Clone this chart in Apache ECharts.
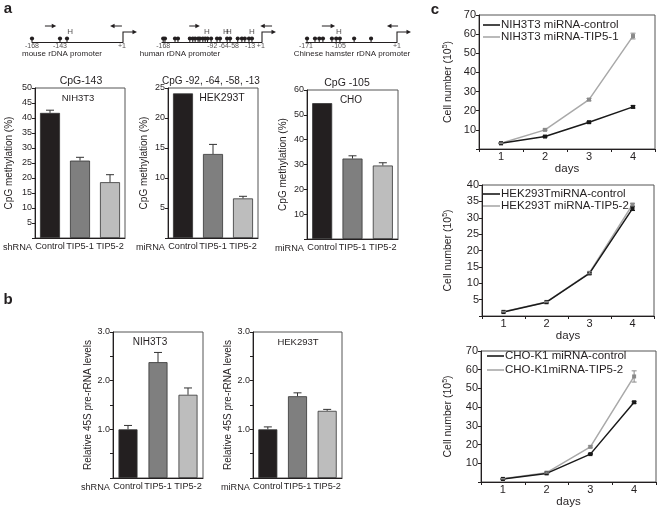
<!DOCTYPE html>
<html>
<head>
<meta charset="utf-8">
<script src="https://cdn.jsdelivr.net/npm/echarts@6/dist/echarts.min.js"></script>
<style>
  html, body { margin: 0; padding: 0; background: #fff; }
  #main { width: 661px; height: 509px; }
</style>
</head>
<body>
<div id="main"></div>
<script>
const FONT = '"Liberation Sans", Arial, sans-serif';
const INK = '#231f20';

// --- promoter schematics (positions as drawn, relative to +1) ---
const mouseCpG = [-168, -116, -103];
const mouseH = [-97];
const mouseSites = [[-168, '-168'], [-116, '-143'], [-1, '+1']];
const mousePrimers = [[-144, -123], [-1, -23]];

const humanCpG = [-166, -163, -146, -141, -121, -116, -112, -107, -104, -99, -95, -91, -85,
                  -75, -70, -58, -53, -40, -33, -28, -21, -16];
const humanH = [-92, -60, -55, -16];
const humanSites = [[-166, '-168'], [-83, '-92'], [-55, '-64-58'], [-19, '-13'], [-1, '+1']];
const humanPrimers = [[-122, -104], [18, -2]];

const choCpG = [-169, -154, -146, -139, -122, -114, -107, -80, -48];
const choH = [-109];
const choSites = [[-171, '-171'], [-109, '-105'], [1, '+1']];
const choPrimers = [[-141, -116], [3, -18]];

// --- a: CpG methylation (%) ---
const treatments = ['Control', 'TIP5-1', 'TIP5-2'];
const methNIH = [41.7, 25.8, 18.6];
const methNIHErr = [0.9, 1.1, 2.5];
const methHEK = [24.1, 14, 6.6];
const methHEKErr = [0, 1.6, 0.35];
const methCHO = [54.7, 32.4, 29.6];
const methCHOErr = [0, 1.1, 1.1];

// --- b: relative 45S pre-rRNA ---
const preNIH = [1.0, 2.38, 1.71];
const preNIHErr = [0.08, 0.2, 0.14];
const preHEK = [1.0, 1.68, 1.38];
const preHEKErr = [0.05, 0.07, 0.03];

// --- c: cell number (10^5) ---
const days = ['1', '2', '3', '4'];
const nihCtrl = [3, 6.5, 14, 22];
const nihCtrlErr = [0.2, 0.3, 0.4, 0.6];
const nihTip = [3, 10, 25.8, 59];
const nihTipErr = [0.2, 0.4, 0.6, 1.5];
const hekCtrl = [1.2, 4.2, 13, 32.8];
const hekCtrlErr = [0.1, 0.1, 0.2, 0.6];
const hekTip = [1.3, 4.3, 13.2, 34];
const hekTipErr = [0.1, 0.1, 0.3, 0.4];
const choCtrl = [1.6, 4.6, 14.9, 42.6];
const choCtrlErr = [0.1, 0.2, 0.3, 0.5];
const choTip = [1.7, 5, 18.8, 56.4];
const choTipErr = [0.1, 0.3, 0.5, 3];

const barColors = ['#231f20', '#7f7f7f', '#bdbdbd'];

const grids = [], xAxes = [], yAxes = [], series = [], legends = [], graphic = [];

function txt(x, y, text, size, opts) {
  graphic.push({
    type: 'text', x: x, y: y, silent: true,
    style: Object.assign({
      text: text, fontSize: size, fontFamily: FONT, fill: INK,
      align: 'center', verticalAlign: 'middle'
    }, opts || {})
  });
}

function addPromoter(p) {
  const gi = grids.length;
  grids.push({ left: p.left, width: p.width, top: 18, height: 24 });
  xAxes.push({
    type: 'value', gridIndex: gi, min: p.min, max: 1,
    axisLine: { show: true, onZero: true, lineStyle: { color: INK, width: 1.2 } },
    axisTick: { show: false }, axisLabel: { show: false }, splitLine: { show: false }
  });
  yAxes.push({ type: 'value', gridIndex: gi, min: 0, max: 1, show: false });
  // CpG lollipops
  series.push({
    type: 'custom', xAxisIndex: gi, yAxisIndex: gi, silent: true,
    data: p.cpg.map(x => [x, 0]),
    renderItem: (params, api) => {
      const c = api.coord([api.value(0), 0]);
      return { type: 'group', children: [
        { type: 'line', shape: { x1: c[0], y1: c[1], x2: c[0], y2: c[1] - 3 }, style: { stroke: INK, lineWidth: 1 } },
        { type: 'circle', shape: { cx: c[0], cy: c[1] - 3.5, r: 2.1 }, style: { fill: INK } }
      ] };
    }
  });
  // H sites
  series.push({
    type: 'scatter', xAxisIndex: gi, yAxisIndex: gi, silent: true, symbolSize: 0.01,
    data: p.h.map(x => [x, 0]),
    label: { show: true, formatter: 'H', position: 'top', distance: 6, fontSize: 8, color: INK, fontFamily: FONT }
  });
  // site labels
  series.push({
    type: 'scatter', xAxisIndex: gi, yAxisIndex: gi, silent: true, symbolSize: 0.01,
    data: p.sites.map(s => ({ value: [s[0], 0], name: s[1] })),
    label: { show: true, formatter: '{b}', position: 'bottom', distance: 1, fontSize: 7, color: INK, fontFamily: FONT }
  });
  // primers
  series.push({
    type: 'custom', xAxisIndex: gi, yAxisIndex: gi, silent: true,
    data: p.primers,
    renderItem: (params, api) => {
      const a = api.coord([api.value(0), 0]), b = api.coord([api.value(1), 0]);
      const y = a[1] - 16, s = b[0] > a[0] ? 1 : -1;
      return { type: 'group', children: [
        { type: 'line', shape: { x1: a[0], y1: y, x2: b[0] - s * 3, y2: y }, style: { stroke: INK, lineWidth: 1 } },
        { type: 'polygon', shape: { points: [[b[0], y], [b[0] - s * 4.5, y - 2.3], [b[0] - s * 4.5, y + 2.3]] }, style: { fill: INK } }
      ] };
    }
  });
  // transcription start
  series.push({
    type: 'custom', xAxisIndex: gi, yAxisIndex: gi, silent: true,
    data: [[1, 0]],
    renderItem: (params, api) => {
      const c = api.coord([api.value(0), 0]);
      const y = c[1] - 10;
      return { type: 'group', children: [
        { type: 'polyline', shape: { points: [[c[0], c[1]], [c[0], y], [c[0] + 10, y]] }, style: { stroke: INK, lineWidth: 1.1, fill: null } },
        { type: 'polygon', shape: { points: [[c[0] + 14, y], [c[0] + 9.5, y - 2.3], [c[0] + 9.5, y + 2.3]] }, style: { fill: INK } }
      ] };
    }
  });
  txt(p.nameX, 54, p.name, 8);
}

function upErr(color) {
  return (params, api) => {
    const e = api.value(2);
    if (!e) return;
    const b = api.coord([api.value(0), api.value(1)]);
    const t = api.coord([api.value(0), api.value(1) + e]);
    const st = { stroke: color, lineWidth: 1 };
    return { type: 'group', children: [
      { type: 'line', shape: { x1: b[0], y1: b[1], x2: t[0], y2: t[1] }, style: st },
      { type: 'line', shape: { x1: t[0] - 4, y1: t[1], x2: t[0] + 4, y2: t[1] }, style: st }
    ] };
  };
}

function bothErr(color) {
  return (params, api) => {
    const e = api.value(2);
    const b = api.coord([api.value(0), api.value(1) - e]);
    const t = api.coord([api.value(0), api.value(1) + e]);
    const st = { stroke: color, lineWidth: 1 };
    return { type: 'group', children: [
      { type: 'line', shape: { x1: b[0], y1: b[1], x2: t[0], y2: t[1] }, style: st },
      { type: 'line', shape: { x1: t[0] - 2.5, y1: t[1], x2: t[0] + 2.5, y2: t[1] }, style: st },
      { type: 'line', shape: { x1: b[0] - 2.5, y1: b[1], x2: b[0] + 2.5, y2: b[1] }, style: st }
    ] };
  };
}

function addBars(c) {
  const gi = grids.length;
  grids.push({ left: c.left, top: c.top, width: c.width, height: c.height, show: true, borderColor: '#555', borderWidth: 1 });
  xAxes.push({
    type: 'category', gridIndex: gi, data: treatments,
    axisLine: { lineStyle: { color: INK } }, axisTick: { show: false },
    axisLabel: { color: INK, fontSize: 9.2, margin: 4, fontFamily: FONT, interval: 0 }
  });
  yAxes.push({
    type: 'value', gridIndex: gi, min: 0, max: c.max, interval: c.interval,
    name: c.yName, nameLocation: 'middle', nameGap: c.nameGap,
    nameTextStyle: { color: INK, fontSize: 10, fontFamily: FONT },
    axisLine: { show: true, lineStyle: { color: INK } },
    axisTick: { show: true, length: 3, lineStyle: { color: INK } },
    splitLine: { show: false },
    axisLabel: { color: INK, fontSize: 9, margin: 3, fontFamily: FONT, formatter: c.fmt }
  });
  series.push({
    type: 'bar', xAxisIndex: gi, yAxisIndex: gi, barWidth: c.barWidth, silent: true,
    data: c.values.map((v, i) => ({ value: v, itemStyle: { color: barColors[i], borderColor: '#333', borderWidth: 0.8 } }))
  });
  series.push({
    type: 'custom', xAxisIndex: gi, yAxisIndex: gi, silent: true, z: 5,
    data: c.values.map((v, i) => [i, v, c.err[i]]),
    renderItem: upErr('#333')
  });
  txt(c.left - 3, c.top + c.height + 9, c.vector, 9.2, { align: 'right' });
  txt(c.cellX, c.top + 10, c.cell, c.cellSize);
  if (c.title) txt(c.titleX, c.top - 7, c.title, c.titleSize);
}

const cellName = 'Cell number (10{sup|5})';

function addLines(c) {
  const gi = grids.length;
  grids.push({ left: c.left, top: c.top, width: c.width, height: c.height, show: true, borderColor: '#555', borderWidth: 1 });
  xAxes.push({
    type: 'category', gridIndex: gi, data: days, boundaryGap: true,
    name: 'days', nameLocation: 'middle', nameGap: c.dayGap,
    nameTextStyle: { color: INK, fontSize: 11.5, fontFamily: FONT },
    axisLine: { lineStyle: { color: INK } },
    axisTick: { show: true, length: 3, lineStyle: { color: INK } },
    axisLabel: { color: INK, fontSize: 11, margin: 2, fontFamily: FONT }
  });
  yAxes.push({
    type: 'value', gridIndex: gi, min: 0, max: c.max, interval: c.interval,
    name: cellName, nameLocation: 'middle', nameGap: c.nameGap,
    nameTextStyle: { color: INK, fontSize: 10.5, fontFamily: FONT, rich: { sup: { fontSize: 7, padding: [0, 0, 6, 0], fontFamily: FONT, color: INK } } },
    axisLine: { show: true, lineStyle: { color: INK } },
    axisTick: { show: true, length: 3, lineStyle: { color: INK } },
    splitLine: { show: false },
    axisLabel: { color: INK, fontSize: 11, margin: 3, fontFamily: FONT, formatter: v => v === 0 ? '' : v }
  });
  const defs = [
    { name: c.names[0], data: c.ctrl, err: c.ctrlErr, line: '#1a1a1a', mark: '#1a1a1a' },
    { name: c.names[1], data: c.tip, err: c.tipErr, line: '#a9a9a9', mark: '#8a8a8a' }
  ];
  defs.forEach((d, k) => {
    series.push({
      type: 'line', name: d.name, xAxisIndex: gi, yAxisIndex: gi, data: d.data,
      symbol: 'rect', symbolSize: 4, showSymbol: true, silent: true, z: k === 0 ? 4 : 3,
      lineStyle: { color: d.line, width: 1.5 }, itemStyle: { color: d.mark }
    });
    series.push({
      type: 'custom', xAxisIndex: gi, yAxisIndex: gi, silent: true, z: 5,
      data: d.data.map((v, i) => [i, v, d.err[i]]),
      renderItem: bothErr(d.mark)
    });
  });
  legends.push({
    data: defs.map(d => ({ name: d.name, itemStyle: { color: d.line } })),
    orient: 'vertical', left: c.legendLeft, top: c.legendTop, padding: 0,
    itemWidth: 17, itemHeight: 1.6, itemGap: 0, icon: 'rect', selectedMode: false,
    textStyle: { color: INK, fontSize: 11.5, fontFamily: FONT, lineHeight: c.legendRow, padding: [0, 0, 0, -4] }
  });
}

// promoters
addPromoter({ left: 32, width: 91, min: -168, cpg: mouseCpG, h: mouseH, sites: mouseSites, primers: mousePrimers, name: 'mouse rDNA promoter', nameX: 62 });
addPromoter({ left: 162, width: 100, min: -168, cpg: humanCpG, h: humanH, sites: humanSites, primers: humanPrimers, name: 'human rDNA promoter', nameX: 180 });
addPromoter({ left: 306, width: 91, min: -171, cpg: choCpG, h: choH, sites: choSites, primers: choPrimers, name: 'Chinese hamster rDNA promoter', nameX: 352 });

const methName = 'CpG methylation (%)';
addBars({ left: 35, top: 88, width: 90, height: 150, max: 50, interval: 5, yName: methName, nameGap: 21,
  values: methNIH, err: methNIHErr, barWidth: 20, vector: 'shRNA', cell: 'NIH3T3', cellX: 78, cellSize: 9.5,
  title: 'CpG-143', titleX: 81, titleSize: 10.5, fmt: v => v === 0 ? '' : v });
addBars({ left: 168, top: 88, width: 90, height: 150, max: 25, interval: 5, yName: methName, nameGap: 19,
  values: methHEK, err: methHEKErr, barWidth: 20, vector: 'miRNA', cell: 'HEK293T', cellX: 222, cellSize: 10.5,
  title: 'CpG -92, -64, -58, -13', titleX: 211, titleSize: 10, fmt: v => v === 0 ? '' : v });
addBars({ left: 307, top: 90, width: 91, height: 149, max: 60, interval: 10, yName: methName, nameGap: 19,
  values: methCHO, err: methCHOErr, barWidth: 20, vector: 'miRNA', cell: 'CHO', cellX: 351, cellSize: 10,
  title: 'CpG -105', titleX: 347, titleSize: 10.5, fmt: v => v === 0 ? '' : v });

const preName = 'Relative 45S pre-rRNA levels';
const preFmt = v => (v > 0 && Math.abs(v - Math.round(v)) < 1e-9) ? v.toFixed(1) : '';
addBars({ left: 113, top: 332, width: 90, height: 146, max: 3, interval: 0.5, yName: preName, nameGap: 20,
  values: preNIH, err: preNIHErr, barWidth: 19, vector: 'shRNA', cell: 'NIH3T3', cellX: 150, cellSize: 10, fmt: preFmt });
addBars({ left: 253, top: 332, width: 89, height: 146, max: 3, interval: 0.5, yName: preName, nameGap: 18,
  values: preHEK, err: preHEKErr, barWidth: 19, vector: 'miRNA', cell: 'HEK293T', cellX: 298, cellSize: 9.5, fmt: preFmt });

addLines({ left: 479, top: 15, width: 176, height: 134, max: 70, interval: 10, nameGap: 24, dayGap: 11,
  ctrl: nihCtrl, ctrlErr: nihCtrlErr, tip: nihTip, tipErr: nihTipErr,
  names: ['NIH3T3 miRNA-control', 'NIH3T3 miRNA-TIP5-1'], legendLeft: 483, legendTop: 19, legendRow: 11 });
addLines({ left: 482, top: 185, width: 172, height: 131, max: 40, interval: 5, nameGap: 27, dayGap: 13,
  ctrl: hekCtrl, ctrlErr: hekCtrlErr, tip: hekTip, tipErr: hekTipErr,
  names: ['HEK293TmiRNA-control', 'HEK293T miRNA-TIP5-2'], legendLeft: 483, legendTop: 188, legendRow: 10.5 });
addLines({ left: 481, top: 351, width: 175, height: 131, max: 70, interval: 10, nameGap: 26, dayGap: 12,
  ctrl: choCtrl, ctrlErr: choCtrlErr, tip: choTip, tipErr: choTipErr,
  names: ['CHO-K1 miRNA-control', 'CHO-K1miRNA-TIP5-2'], legendLeft: 487, legendTop: 349, legendRow: 14 });

// panel letters
txt(8, 9, 'a', 15, { fontWeight: 'bold' });
txt(8, 300, 'b', 15, { fontWeight: 'bold' });
txt(435, 10, 'c', 15, { fontWeight: 'bold' });

const chart = echarts.init(document.getElementById('main'), null, { renderer: 'canvas' });
chart.setOption({
  animation: false,
  backgroundColor: '#fff',
  textStyle: { fontFamily: FONT },
  grid: grids,
  xAxis: xAxes,
  yAxis: yAxes,
  legend: legends,
  series: series,
  graphic: graphic
});
</script>
</body>
</html>
